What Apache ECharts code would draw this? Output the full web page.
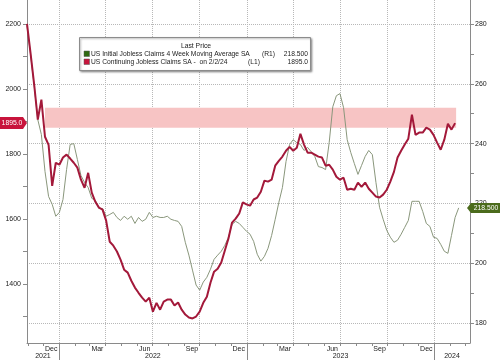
<!DOCTYPE html>
<html><head><meta charset="utf-8">
<script src="https://cdn.jsdelivr.net/npm/echarts@6/dist/echarts.min.js"></script>
<style>html,body{margin:0;padding:0;background:#fff}#c{width:500px;height:360px}</style>
</head><body><div id="c"></div>
<script>
// ---- data ----
const firstWeek = '2021-10-30';
const continuingClaims = [2200,2109,2013,1906,1967,1853,1828,1702,1773,1767,
1789,1798,1786,1773,1758,1721,1696,1742,1681,1653,
1635,1629,1595,1530,1518,1500,1475,1444,1435,1410,
1389,1373,1358,1346,1358,1315,1342,1321,1346,1352,
1352,1334,1343,1321,1306,1297,1294,1300,1315,1342,
1361,1404,1438,1447,1466,1503,1540,1589,1601,1617,
1651,1645,1641,1660,1666,1684,1718,1715,1721,1764,
1779,1792,1810,1822,1810,1819,1862,1829,1804,1804,
1798,1792,1789,1764,1767,1752,1730,1721,1727,1690,
1693,1690,1712,1699,1712,1693,1681,1669,1666,1675,
1690,1715,1745,1789,1810,1829,1847,1921,1859,1866,
1866,1881,1875,1859,1835,1813,1844,1893,1875,1895];
const initialClaims4wk = [279.3,269.7,259.3,248,243,230.7,222.3,219.7,215.7,217,
221.3,231.3,239.7,240,234.7,229.3,227,225.3,221.7,221,
218.3,218.3,215.7,216.3,217,215.3,214.3,215.7,214.7,215.7,
213.3,215.3,214,214.7,217,215.3,215.7,215.3,215.3,215.7,
214.7,214.3,214,212.3,207,202.7,197.7,192.7,191,193.7,
195.3,198,201.3,202.7,204,206,208.7,213,214,213.3,
212,210.7,209.7,207.3,203,200.7,202.3,205,209.3,214.7,
220.3,225.3,234,239.7,241.3,240.3,239.7,237.7,238.7,237.3,
235.7,232.3,232,231.3,240.3,252.3,256,256.7,252,241.3,
237,233.3,229.7,232.7,235.7,237.7,236.3,227,218.7,214.7,
211,208.7,207,207.7,209.7,212,214.3,220.7,220.7,220.7,
217.3,213.3,212.3,208.7,208.3,206.3,204,203.3,209.3,215.3,
218.5];
const lastContinuing = 1895.0;
const lastInitial = 218.5;
const leftLabels = [1400,1600,1800,2000,2200];
const leftTicks = [1300,1400,1500,1600,1700,1800,1900,2000,2100,2200];
const rightLabels = [180,200,220,240,260,280];
const rightTicks = [180,190,200,210,220,230,240,250,260,270,280];
const monthLabels = [['2021-12-16','Dec'],['2022-03-16','Mar'],['2022-06-16','Jun'],['2022-09-16','Sep'],['2022-12-16','Dec'],
  ['2023-03-16','Mar'],['2023-06-16','Jun'],['2023-09-16','Sep'],['2023-12-16','Dec']];
const yearLabels = [['2021-11-30','2021'],['2022-07-02','2022'],['2023-07-02','2023'],['2024-02-04','2024']];
const yearBreaks = ['2022-01-01','2023-01-01','2024-01-01'];
const gridDates = ['2022-01-01','2022-04-01','2022-07-01','2022-10-01','2023-01-01','2023-04-01','2023-07-01','2023-10-01','2024-01-01'];
const bandRange = [1881, 1942];
const bandDates = ['2021-12-04','2024-02-12'];
const axisRange = ['2021-10-30','2024-03-10'];
const legendTitle = 'Last Price';
const legendRows = [
  {name:'US Initial Jobless Claims 4 Week Moving Average SA', axis:'(R1)', last:'218.500', color:'#2f6a12'},
  {name:'US Continuing Jobless Claims SA -  on 2/2/24', axis:'(L1)', last:'1895.0', color:'#c8143c'}
];

// ---- build ----
function ts(s){ const p=s.split('-').map(Number); return Date.UTC(p[0],p[1]-1,p[2]); }
const DAY = 86400000;
const t0 = ts(firstWeek);
const redData = continuingClaims.map((v,i)=>[t0+i*7*DAY, v]);
const greenData = initialClaims4wk.map((v,i)=>[t0+i*7*DAY, v]);
const monthMap = {}; monthLabels.forEach(m=>monthMap[ts(m[0])]=m[1]);
const yearMap = {}; yearLabels.forEach(m=>yearMap[ts(m[0])]=m[1]);
const monthStarts = [];
for (let y=2021,m=10; y<2024 || m<=2; ){ monthStarts.push(Date.UTC(y,m,1)); m++; if(m>11){m=0;y++;} }

const FONT = 'Liberation Sans';
const AX = '#8a8a8a';
const TXT = '#222';
const chart = echarts.init(document.getElementById('c'), null, {renderer:'canvas'});
const option = {
  animation:false,
  backgroundColor:'#fff',
  grid:{left:27, right:30, top:0, bottom:17, containLabel:false},
  xAxis:[{
    type:'value', min:ts(axisRange[0]), max:ts(axisRange[1]),
    axisLine:{show:true, onZero:false, lineStyle:{color:AX}},
    axisTick:{show:true, customValues:monthStarts, length:3, lineStyle:{color:AX}},
    axisLabel:{customValues:monthLabels.map(m=>ts(m[0])), formatter:v=>monthMap[v]||'', margin:3, fontSize:7, color:TXT, fontFamily:FONT, hideOverlap:false},
    splitLine:{show:false}
  },{
    type:'value', min:ts(axisRange[0]), max:ts(axisRange[1]), position:'bottom',
    axisLine:{show:false, onZero:false},
    axisTick:{show:true, customValues:yearBreaks.map(ts), length:17, lineStyle:{color:AX}},
    axisLabel:{customValues:yearLabels.map(m=>ts(m[0])), formatter:v=>yearMap[v]||'', margin:10, fontSize:7, color:TXT, fontFamily:FONT, hideOverlap:false},
    splitLine:{show:false}
  }],
  yAxis:[{
    type:'value', position:'left', min:1218.5, max:2273.8,
    axisLine:{show:true, lineStyle:{color:AX}},
    axisTick:{show:true, customValues:leftTicks, length:4, lineStyle:{color:AX}},
    axisLabel:{customValues:leftLabels, formatter:v=>String(v), margin:6, fontSize:7, color:TXT, fontFamily:FONT},
    splitLine:{show:false}
  },{
    type:'value', position:'right', min:173.33, max:288,
    axisLine:{show:true, lineStyle:{color:AX}},
    axisTick:{show:true, customValues:rightTicks, length:4, lineStyle:{color:AX}},
    axisLabel:{customValues:rightLabels, formatter:v=>String(v), margin:5, fontSize:7, color:TXT, fontFamily:FONT},
    splitLine:{show:false}
  }],
  series:[{
    type:'line', name:'initial', xAxisIndex:0, yAxisIndex:1, data:greenData, showSymbol:false, symbol:'none',
    lineStyle:{color:'#8a977c', width:1}, z:2, silent:true,
    markLine:{silent:true, symbol:'none', z:0, label:{show:false},
      lineStyle:{color:'#b8b8b8', type:'dotted', width:1},
      data: rightLabels.map(v=>({yAxis:v})).concat(gridDates.map(d=>({xAxis:ts(d)})))
    }
  },{
    type:'line', name:'continuing', xAxisIndex:0, yAxisIndex:0, data:redData, showSymbol:false, symbol:'none',
    lineStyle:{color:'#a3193a', width:2}, z:3, silent:true,
    markArea:{silent:true, z:1, itemStyle:{color:'#f7c4c4'},
      data:[[{xAxis:ts(bandDates[0]), yAxis:bandRange[0]},{xAxis:ts(bandDates[1]), yAxis:bandRange[1]}]]}
  }]
};
chart.setOption(option);

const yL = chart.convertToPixel({yAxisIndex:0}, lastContinuing);
const yR = chart.convertToPixel({yAxisIndex:1}, lastInitial);
const g = [];
const LX=79.5, LY=37.5, LW=231, LH=33;
g.push({type:'rect', shape:{x:LX,y:LY,width:LW,height:LH}, style:{fill:'#fff', stroke:'#8c8c8c', lineWidth:1, shadowBlur:2, shadowColor:'rgba(0,0,0,0.35)', shadowOffsetX:1, shadowOffsetY:1}, z:50});
g.push({type:'text', x:196, y:46, style:{text:legendTitle, fill:TXT, font:'6.8px '+FONT, textAlign:'center', textVerticalAlign:'middle'}, z:51});
legendRows.forEach((r,i)=>{
  const cy = 54 + i*8;
  g.push({type:'rect', shape:{x:84,y:cy-3,width:5.5,height:5.5}, style:{fill:r.color, stroke:'#555', lineWidth:0.5}, z:51});
  g.push({type:'text', x:91, y:cy, style:{text:r.name, fill:TXT, font:'6.7px '+FONT, textAlign:'left', textVerticalAlign:'middle'}, z:51});
  g.push({type:'text', x:i===0?262:248, y:cy, style:{text:r.axis, fill:TXT, font:'6.7px '+FONT, textAlign:'left', textVerticalAlign:'middle'}, z:51});
  g.push({type:'text', x:308, y:cy, style:{text:r.last, fill:TXT, font:'6.7px '+FONT, textAlign:'right', textVerticalAlign:'middle'}, z:51});
});
g.push({type:'polygon', shape:{points:[[0,yL-6],[23,yL-6],[27,yL],[23,yL+6],[0,yL+6]]}, style:{fill:'#c8143c'}, z:60});
g.push({type:'text', x:12, y:yL, style:{text:lastContinuing.toFixed(1), fill:'#fff', font:'6.8px '+FONT, textAlign:'center', textVerticalAlign:'middle'}, z:61});
g.push({type:'polygon', shape:{points:[[467,yR],[471,yR-5],[500,yR-5],[500,yR+5],[471,yR+5]]}, style:{fill:'#4b6b1c'}, z:60});
g.push({type:'text', x:486, y:yR, style:{text:lastInitial.toFixed(3), fill:'#fff', font:'6.8px '+FONT, textAlign:'center', textVerticalAlign:'middle'}, z:61});
chart.setOption({graphic:{elements:g}});
</script>
</body></html>
